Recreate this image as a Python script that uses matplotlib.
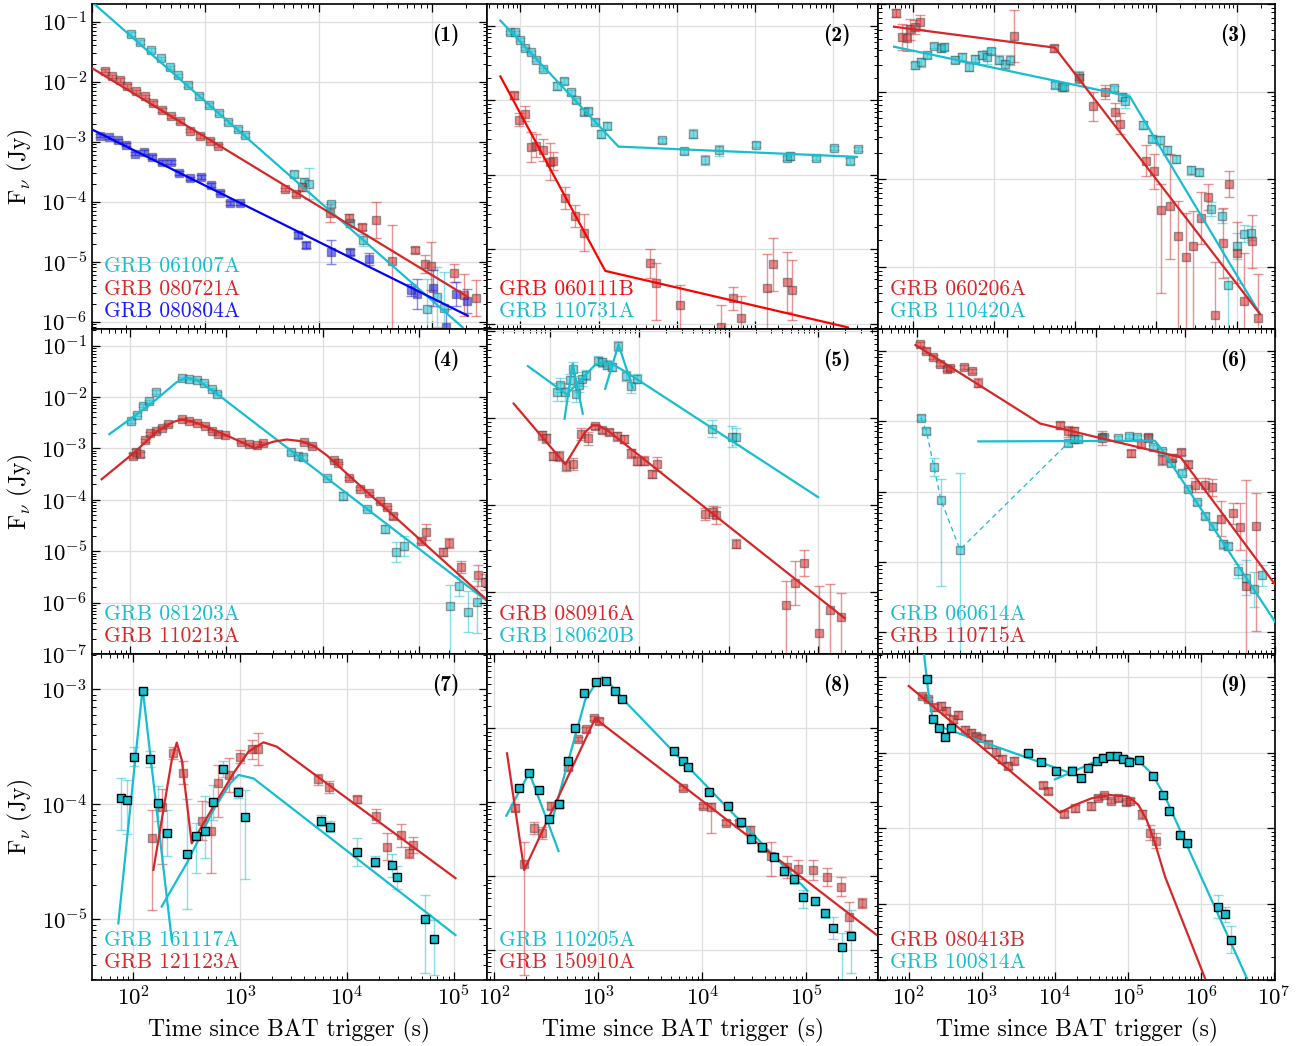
import numpy as np
import matplotlib
matplotlib.use("Agg")
import matplotlib.pyplot as plt
from matplotlib.colors import to_rgb
from matplotlib.ticker import LogLocator, NullFormatter

plt.rcParams.update({
    "font.family": "serif",
    "font.serif": ["cmr10"],
    "mathtext.fontset": "cm",
    "axes.formatter.use_mathtext": True,
})

CYAN = "#17becf"
RED = "#d62728"
BLUE = "#1010ee"
PURE_RED = "#ff0000"

# ---------------- Panel 1 ----------------
p1_061007A_t = [220, 266, 330, 403, 484, 573, 698, 873, 1070, 1313, 1588, 1945, 2230, 6050, 7410, 8200, 12770, 18800, 24700, 91500, 111000, 128000]
p1_061007A_f = [0.0617, 0.0454, 0.0338, 0.0243, 0.0172, 0.0127, 0.00887, 0.00575, 0.00408, 0.0030, 0.00213, 0.00161, 0.00128, 2.84e-4, 2.12e-4, 1.99e-4, 9.0e-5, 4.36e-5, 2.30e-5, 1.62e-6, 2.6e-6, 1.66e-6]
p1_061007A_e = [0.03, 0.03, 0.03, 0.03, 0.03, 0.03, 0.03, 0.03, 0.03, 0.03, 0.03, 0.03, 0.03, 0.05, 0.06, 0.26, 0.04, 0.06, 0.1, (1.5, 0.5), 0.5, 0.6]
p1_080721A_t = [130, 149, 175, 205, 247, 292, 349, 419, 500, 593, 727, 903, 1107, 1294, 5100, 6340, 7160, 12600, 18500, 24300, 32400, 44200, 70800, 86800, 98000, 156000, 193000, 245000]
p1_080721A_f = [0.0152, 0.0122, 0.0106, 0.00853, 0.00687, 0.00567, 0.00445, 0.00333, 0.00264, 0.00221, 0.00153, 0.00123, 0.00104, 8.6e-4, 1.60e-4, 1.35e-4, 1.75e-4, 6.5e-5, 5.3e-5, 3.8e-5, 4.9e-5, 1.03e-5, 1.55e-5, 9.3e-6, 8.5e-6, 6.4e-6, 2.77e-6, 2.44e-6]
p1_080721A_e = [0.03, 0.03, 0.03, 0.03, 0.03, 0.03, 0.03, 0.03, 0.03, 0.03, 0.03, 0.03, 0.03, 0.03, 0.03, 0.03, 0.06, 0.15, 0.07, 0.05, 0.3, (1.5, 0.6), 0.05, 0.15, 0.4, 0.15, 0.35, 0.3]
p1_080804A_t = [118, 140, 168, 200, 240, 285, 340, 411, 497, 585, 727, 922, 1122, 1358, 1665, 2013, 6600, 7780, 13000, 18900, 27900, 65200, 74700, 103000, 133000, 163000, 204000]
p1_080804A_f = [1.26e-3, 1.18e-3, 1.05e-3, 8.9e-4, 6.3e-4, 6.7e-4, 5.5e-4, 4.6e-4, 4.6e-4, 3.03e-4, 2.44e-4, 2.6e-4, 1.89e-4, 1.41e-4, 9.6e-5, 9.35e-5, 2.79e-5, 1.88e-5, 1.47e-5, 1.47e-5, 1.10e-5, 3.4e-6, 2.9e-6, 3.7e-6, 8.0e-7, 2.9e-6, 2.23e-6]
p1_080804A_e = [0.03, 0.03, 0.03, 0.03, 0.03, 0.03, 0.03, 0.03, 0.03, 0.03, 0.03, 0.03, 0.03, 0.03, 0.03, 0.03, 0.05, 0.05, 0.2, 0.05, 0.1, 0.1, 0.25, 0.3, 0.3, 0.2, 0.2]
p1_fit_061007A_t = [103, 1.87e5]
p1_fit_061007A_f = [0.202, 8.05e-7]
p1_fit_080721A_t = [100, 2.07e5]
p1_fit_080721A_f = [0.0168, 2.6e-6]
p1_fit_080804A_t = [103, 2.07e5]
p1_fit_080804A_f = [1.55e-3, 1.26e-6]

# ---------------- Panel 2 ----------------
p2_110731A_t = [7.45, 8.47, 9.8, 11.6, 13.7, 16.0, 19.3, 29.4, 36.5, 44.0, 51.4, 64.4, 73.1, 88.9, 108, 129, 650, 1242, 1633, 2301, 3510, 10200, 25400, 28000, 60100, 103000, 163000, 208000]
p2_110731A_f = [0.0822, 0.0822, 0.065, 0.0503, 0.0440, 0.0351, 0.0263, 0.0157, 0.0184, 0.0128, 0.0100, 0.0070, 0.0073, 0.0052, 0.00356, 0.00459, 0.0029, 0.00208, 0.00356, 0.00158, 0.00213, 0.00256, 0.0017, 0.00179, 0.0017, 0.00231, 0.00153, 0.00222]
p2_110731A_e = [0.02, 0.02, 0.02, 0.02, 0.02, 0.02, 0.02, 0.05, 0.04, 0.03, 0.03, 0.04, 0.04, 0.03, 0.05, 0.05, 0.03, 0.04, 0.06, 0.07, 0.08, 0.03, 0.03, 0.05, 0.03, 0.03, 0.04, 0.03]
p2_060111B_t = [8.4, 9.7, 11.6, 13.7, 16.0, 19.5, 23.7, 26.1, 36.8, 50.4, 65.0, 461, 545, 1103, 3680, 5290, 6560, 14400, 17100, 25900, 29700]
p2_060111B_f = [0.0117, 0.00552, 0.00665, 0.00238, 0.00248, 0.00215, 0.0015, 0.00153, 4.95e-4, 2.79e-4, 1.68e-4, 6.5e-5, 3.57e-5, 1.79e-5, 9.0e-6, 2.2e-5, 1.19e-5, 3.06e-5, 6.3e-5, 3.68e-5, 2.85e-5]
p2_060111B_e = [0.05, 0.09, 0.1, 0.2, 0.15, 0.15, 0.25, 0.12, 0.15, 0.15, 0.25, 0.2, (0.5, 0.27), (1.5, 0.27), (1.5, 0.3), 0.15, 0.3, (1.5, 0.45), 0.35, 0.4, 0.4]
p2_fit_060111B_t = [5.56, 122, 1.55e5]
p2_fit_060111B_f = [0.021, 5.16e-5, 9.0e-6]
p2_fit_110731A_t = [5.56, 180, 2.02e5]
p2_fit_110731A_f = [0.118, 0.0024, 0.00175]

# ---------------- Panel 3 ----------------
p3_060206A_t = [62, 72.8, 83.2, 92.3, 106, 123, 1768, 5470, 11300, 16800, 23400, 31100, 35900, 74500, 94400, 117000, 149000, 185000, 233000, 290000, 360000, 436000, 537000, 668000, 800000, 1.01e6, 1.23e6, 1.53e6, 1.85e6]
p3_060206A_f = [7.9e-3, 4.16e-3, 4.05e-3, 5.13e-3, 5.5e-3, 6.2e-3, 4.3e-3, 3.11e-3, 1.42e-3, 6.75e-4, 1.0e-3, 5.8e-4, 4.29e-4, 1.62e-4, 1.23e-4, 4.42e-5, 4.9e-5, 2.23e-5, 1.29e-5, 1.72e-5, 3.61e-5, 6.2e-5, 2.82e-6, 1.88e-5, 8.8e-5, 1.44e-5, 4.0e-6, 1.94e-5, 2.58e-6]
p3_060206A_e = [0.05, 0.15, 0.15, 0.12, 0.08, 0.08, 0.3, 0.04, 0.05, 0.17, 0.08, 0.1, 0.12, 0.18, 0.2, (0.95, 0.3), 0.6, (1.5, 0.4), (1.5, 0.5), (1.5, 0.4), 0.3, 0.15, (1.5, 0.6), 0.4, 0.15, 0.35, (1.5, 0.55), 0.3, 0.5]
p3_110420A_t = [106, 124, 150, 181, 223, 238, 332, 402, 486, 588, 711, 812, 927, 1142, 1381, 1577, 5640, 6810, 7280, 11100, 30500, 37600, 41300, 69600, 88300, 112000, 138000, 175000, 271000, 343000, 479000, 649000, 785000, 995000, 1.23e6, 1.50e6]
p3_110420A_f = [2.0e-3, 2.16e-3, 2.61e-3, 3.34e-3, 3.11e-3, 3.25e-3, 2.3e-3, 2.46e-3, 1.93e-3, 2.36e-3, 2.61e-3, 2.5e-3, 2.9e-3, 2.3e-3, 2.05e-3, 2.3e-3, 1.19e-3, 1.12e-3, 1.12e-3, 1.51e-3, 1.09e-3, 8.77e-4, 7.7e-4, 4.14e-4, 2.87e-4, 2.77e-4, 2.13e-4, 1.7e-4, 1.26e-4, 1.2e-4, 4.57e-5, 3.77e-5, 6.1e-6, 1.72e-5, 2.38e-5, 2.4e-5]
p3_110420A_e = [0.04, 0.05, 0.03, 0.03, 0.04, 0.04, 0.04, 0.05, 0.05, 0.04, 0.05, 0.08, 0.03, 0.05, 0.05, 0.06, 0.03, 0.03, 0.03, 0.05, 0.03, 0.04, 0.08, 0.05, 0.04, 0.05, 0.05, 0.05, 0.05, 0.04, 0.08, 0.08, (1.5, 0.1), 0.15, 0.1, 0.08]
p3_fit_060206A_t = [58, 5640, 1.94e6]
p3_fit_060206A_f = [5.5e-3, 3.17e-3, 2.86e-6]
p3_fit_110420A_t = [58, 47600, 1.94e6]
p3_fit_110420A_f = [3.25e-3, 8.77e-4, 2.86e-6]

# ---------------- Panel 4 ----------------
p4_081203A_t = [102, 117, 137, 159, 185, 343, 409, 491, 585, 708, 805, 4670, 5570, 6180, 10900, 16000, 28400, 44100, 56900, 69400, 208000, 260000, 322000, 393000]
p4_081203A_f = [3.38e-3, 4.55e-3, 6.7e-3, 8.25e-3, 0.0125, 0.0233, 0.0227, 0.021, 0.0189, 0.0145, 0.0116, 8.4e-4, 7.1e-4, 6.7e-4, 2.7e-4, 1.19e-4, 6.7e-5, 2.7e-5, 9.7e-6, 1.25e-5, 8.6e-7, 2.1e-6, 6.7e-7, 1.04e-6]
p4_081203A_e = [0.03, 0.03, 0.03, 0.03, 0.03, 0.02, 0.02, 0.02, 0.02, 0.02, 0.03, 0.03, 0.03, 0.05, 0.03, 0.08, 0.03, 0.08, 0.2, 0.2, (1.5, 0.4), 0.2, 0.4, (0.6, 0.4)]
p4_110213A_t = [107, 115, 127, 143, 161, 186, 216, 246, 343, 409, 499, 600, 708, 824, 966, 1405, 1727, 2060, 2414, 6430, 7780, 12900, 14200, 18800, 24300, 30100, 39100, 45900, 53800, 103000, 116000, 175000, 202000, 271000, 402000, 480000]
p4_110213A_f = [7.2e-4, 8.6e-4, 7.65e-4, 1.45e-3, 1.95e-3, 2.16e-3, 2.55e-3, 2.96e-3, 3.7e-3, 3.38e-3, 3.18e-3, 2.7e-3, 2.16e-3, 1.89e-3, 1.81e-3, 1.31e-3, 1.21e-3, 1.16e-3, 1.25e-3, 1.31e-3, 1.11e-3, 5.9e-4, 5.1e-4, 2.62e-4, 1.63e-4, 1.35e-4, 9.3e-5, 7.2e-5, 4.75e-5, 1.61e-5, 2.37e-5, 9.6e-6, 1.45e-5, 5.0e-6, 3.4e-6, 2.5e-6]
p4_110213A_e = [0.05, 0.05, 0.05, 0.03, 0.03, 0.03, 0.03, 0.03, 0.02, 0.02, 0.02, 0.02, 0.02, 0.02, 0.02, 0.02, 0.02, 0.02, 0.02, 0.02, 0.02, 0.02, 0.02, 0.03, 0.03, 0.03, 0.03, 0.03, 0.05, 0.05, 0.15, 0.08, 0.1, 0.12, 0.2, 0.15]
p4_fit_081203A_t = [61, 161, 305, 387, 491, 792, 500000]
p4_fit_081203A_f = [1.89e-3, 7.1e-3, 0.0195, 0.0237, 0.0216, 0.0116, 1.08e-6]
p4_fit_110213A_t = [50.8, 108, 189, 281, 343, 436, 623, 1180, 1980, 2414, 3060, 4210, 5800, 7960, 10900, 19100, 500000]
p4_fit_110213A_f = [2.51e-4, 8.0e-4, 2.1e-3, 3.28e-3, 3.64e-3, 3.38e-3, 2.62e-3, 1.56e-3, 1.0e-3, 1.16e-3, 1.35e-3, 1.49e-3, 1.39e-3, 1.13e-3, 7.4e-4, 2.83e-4, 1.13e-6]

# ---------------- Panel 5 ----------------
p5_180620B_t = [121, 132, 147, 170, 181, 197, 214, 230, 254, 352, 390, 443, 504, 578, 710, 807, 942, 6580, 10800, 12000]
p5_180620B_f = [1.98e-3, 2.36e-3, 1.98e-3, 2.69e-3, 3.66e-3, 1.9e-3, 2.36e-3, 2.77e-3, 3.13e-3, 4.56e-3, 4.36e-3, 4.1e-3, 3.83e-3, 6.65e-3, 3.02e-3, 2.32e-3, 2.82e-3, 7.55e-4, 6.07e-4, 6.07e-4]
p5_180620B_e = [0.1, 0.08, 0.1, 0.08, 0.08, 0.1, 0.08, 0.08, 0.06, 0.05, 0.05, 0.05, 0.05, 0.06, 0.06, 0.08, 0.05, 0.1, 0.12, 0.1]
p5_080916A_t = [82, 91, 109, 128, 152, 185, 223, 268, 323, 383, 463, 563, 680, 807, 958, 1146, 1408, 1601, 5450, 6750, 7230, 12000, 43600, 54900, 69200, 103000, 137000, 179000]
p5_080916A_f = [6.3e-4, 5.8e-4, 3.65e-4, 3.65e-4, 2.8e-4, 2.93e-4, 6.6e-4, 5.8e-4, 8.0e-4, 7.2e-4, 6.9e-4, 6.17e-4, 5.7e-4, 3.9e-4, 3.23e-4, 3.23e-4, 2.27e-4, 2.95e-4, 7.9e-5, 8.3e-5, 7.6e-5, 3.6e-5, 7.1e-6, 1.27e-5, 2.13e-5, 3.34e-6, 6.2e-6, 5.2e-6]
p5_080916A_e = [0.05, 0.05, 0.05, 0.06, 0.06, 0.07, 0.07, 0.07, 0.03, 0.03, 0.03, 0.05, 0.05, 0.05, 0.05, 0.05, 0.05, 0.08, 0.07, 0.07, 0.1, 0.05, (1.5, 0.28), 0.25, 0.15, (1.5, 0.55), (1.5, 0.3), (1.5, 0.27)]
p5_fit_180620B_t = [57.3, 156, 230, 323, 400, 517, 698, 1e5]
p5_fit_180620B_f = [3.93e-3, 1.86e-3, 2.82e-3, 4.07e-3, 4.37e-3, 4.07e-3, 3.41e-3, 1.23e-4]
p5_flare1_180620B_t = [147, 181, 235]
p5_flare1_180620B_f = [9.8e-4, 4.18e-3, 1.12e-3]
p5_flare2_180620B_t = [418, 589, 849]
p5_flare2_180620B_f = [2.16e-3, 6.95e-3, 2.22e-3]
p5_fit_080916A_t = [39.7, 150, 250, 302, 352, 455, 198000]
p5_fit_080916A_f = [1.46e-3, 2.93e-4, 6.9e-4, 8.2e-4, 8.2e-4, 7.05e-4, 5.0e-6]

# ---------------- Panel 6 ----------------
p6_110715A_t = [106, 126, 150, 178, 212, 231, 332, 405, 472, 3910, 4850, 5610, 11700, 24900, 31800, 38400, 55200, 70200, 88600, 108000, 127000, 165000, 201000, 254000, 346000, 411000, 476000, 617000]
p6_110715A_f = [0.0124, 0.01, 8.05e-3, 6.48e-3, 5.5e-3, 5.69e-3, 5.82e-3, 5.1e-3, 3.5e-3, 8.7e-4, 7.18e-4, 7.18e-4, 5.66e-4, 3.48e-4, 4.71e-4, 5.85e-4, 2.83e-4, 3.02e-4, 3.67e-4, 2.43e-4, 1.22e-4, 1.22e-4, 1.14e-4, 4.1e-5, 4.89e-5, 3.17e-5, 4.56e-6, 3.27e-5]
p6_110715A_e = [0.03, 0.03, 0.03, 0.03, 0.03, 0.03, 0.03, 0.03, 0.06, 0.05, 0.08, 0.06, 0.1, 0.05, 0.05, 0.05, 0.07, 0.05, 0.04, 0.05, 0.1, 0.1, 0.12, 0.25, 0.15, 0.33, (1.5, 1.5), (1.5, 0.46)]
p6_060614A_t = [109, 126, 153, 183, 299, 4810, 5610, 6220, 11700, 12400, 17500, 23300, 28600, 38400, 43300, 55200, 68400, 91000, 108000, 134000, 166000, 206000, 261000, 304000, 391000, 476000, 581000, 714000]
p6_060614A_f = [1.12e-3, 7.18e-4, 2.21e-4, 7.6e-5, 1.5e-5, 4.81e-4, 5.55e-4, 5.55e-4, 5.85e-4, 5.85e-4, 5.66e-4, 6.18e-4, 5.97e-4, 5.66e-4, 4.31e-4, 3.75e-4, 2.51e-4, 1.85e-4, 1.08e-4, 7.0e-5, 4.53e-5, 3.27e-5, 1.77e-5, 1.67e-5, 7.4e-6, 5.98e-6, 4.09e-6, 6.5e-6]
p6_060614A_e = [0.03, 0.04, 0.13, (1.22, 0.29), (1.6, 1.08), 0.04, 0.05, 0.04, 0.03, 0.03, 0.03, 0.03, 0.03, 0.03, 0.03, 0.03, 0.04, 0.04, 0.03, 0.04, 0.04, 0.04, 0.06, 0.05, 0.1, 0.25, 0.25, 0.15]
p6_fit_060614A_t = [481, 45600, 55200, 1.01e6]
p6_fit_060614A_f = [5.14e-4, 5.25e-4, 3.87e-4, 1.42e-6]
p6_fit_110715A_t = [95, 2370, 88700, 1.01e6]
p6_fit_110715A_f = [0.012, 9.2e-4, 3.05e-4, 4.8e-6]

# ---------------- Panel 7 ----------------
p7_161117A_t = [76, 86.6, 102, 122, 143, 169, 205, 321, 384, 470, 554, 688, 958, 1114, 5740, 6880, 12400, 18400, 26600, 29400, 53500, 64900]
p7_161117A_f = [1.14e-4, 1.09e-4, 2.6e-4, 9.7e-4, 2.46e-4, 1.02e-4, 5.6e-5, 3.7e-5, 5.3e-5, 5.9e-5, 1.04e-4, 2.03e-4, 1.27e-4, 7.8e-5, 7.2e-5, 6.4e-5, 3.83e-5, 3.17e-5, 2.96e-5, 2.32e-5, 1.0e-5, 6.7e-6]
p7_161117A_e = [(0.28, 0.17), (0.3, 0.17), 0.08, 0.02, 0.07, 0.15, 0.2, 0.48, (0.32, 0.11), (0.24, 0.3), 0.15, 0.07, 0.05, (0.54, 0.23), 0.05, 0.05, 0.12, 0.05, 0.1, 0.1, (0.47, 0.21), (0.31, 0.17)]
p7_121123A_t = [151, 187, 234, 290, 437, 531, 626, 783, 1000, 1286, 1465, 5310, 6730, 12400, 18800, 23700, 32100, 37900, 41600]
p7_121123A_f = [5.06e-5, 9.55e-5, 2.78e-4, 1.88e-4, 7.2e-5, 5.8e-5, 1.52e-4, 1.8e-4, 2.6e-4, 3.0e-4, 3.03e-4, 1.65e-4, 1.42e-4, 1.11e-4, 7.96e-5, 4.28e-5, 5.4e-5, 3.8e-5, 4.43e-5]
p7_121123A_e = [(0.62, 0.25), (0.5, 0.15), 0.05, 0.1, 0.17, (0.36, 0.26), (0.29, 0.16), 0.15, 0.06, 0.08, 0.14, 0.05, 0.05, 0.03, 0.06, 0.12, 0.1, 0.05, 0.07]
p7_flare_161117A_t = [72.3, 122, 229]
p7_flare_161117A_f = [9.2e-6, 1.02e-3, 6.6e-6]
p7_fit_161117A_t = [184, 316, 562, 806, 964, 1334, 1.04e5]
p7_fit_161117A_f = [1.29e-5, 3.07e-5, 8.93e-5, 1.52e-4, 1.8e-4, 1.68e-4, 7.3e-6]
p7_fit_121123A_t = [154, 229, 255, 284, 352, 562, 866, 1197, 1655, 2208, 1.04e5]
p7_fit_121123A_f = [2.69e-5, 2.43e-4, 3.44e-4, 2.43e-4, 4.58e-5, 9.55e-5, 1.86e-4, 2.87e-4, 3.46e-4, 3.17e-4, 2.28e-5]

# ---------------- Panel 8 ----------------
p8_110205A_t = [171, 216, 269, 336, 413, 508, 597, 728, 942, 1185, 1445, 1687, 5370, 6460, 7310, 11600, 17700, 23400, 29000, 37500, 48900, 61000, 76200, 93000, 120000, 150000, 180000, 222000, 270000]
p8_110205A_f = [1.57e-4, 2.51e-4, 1.47e-4, 5.87e-5, 9.4e-5, 3.61e-4, 1.02e-3, 2.98e-3, 4.28e-3, 4.41e-3, 3.24e-3, 2.5e-3, 4.99e-4, 3.61e-4, 3.03e-4, 1.39e-4, 8.9e-5, 5.35e-5, 3.15e-5, 2.45e-5, 1.83e-5, 1.19e-5, 9.1e-6, 5.2e-6, 4.61e-6, 3.14e-6, 2.01e-6, 1.09e-6, 1.55e-6]
p8_110205A_e = [0.02, 0.02, 0.02, 0.05, 0.04, 0.02, 0.02, 0.02, 0.02, 0.02, 0.02, 0.02, 0.02, 0.02, 0.02, 0.02, 0.02, 0.02, 0.02, 0.03, 0.05, 0.06, 0.06, (0.15, 0.1), 0.06, 0.06, 0.15, (0.6, 0.2), (0.5, 0.35)]
p8_150910A_t = [158, 193, 238, 286, 352, 419, 508, 629, 755, 908, 1022, 6460, 10200, 12200, 16800, 22600, 28600, 37500, 46100, 65700, 83200, 116000, 158000, 217000, 255000, 345000]
p8_150910A_f = [8.43e-5, 1.46e-5, 4.53e-5, 3.88e-5, 9.0e-5, 9.47e-5, 2.96e-4, 7.17e-4, 9.7e-4, 1.37e-3, 1.26e-3, 1.57e-4, 8.9e-5, 8.7e-5, 5.29e-5, 5.29e-5, 4.2e-5, 2.38e-5, 1.89e-5, 1.34e-5, 1.24e-5, 1.21e-5, 9.8e-6, 7.2e-6, 2.83e-6, 4.29e-6]
p8_150910A_e = [0.05, (1.5, 0.3), 0.08, 0.08, 0.05, 0.05, 0.03, 0.03, 0.03, 0.03, 0.04, 0.03, 0.03, (0.36, 0.05), 0.03, 0.04, 0.05, 0.04, (0.28, 0.19), 0.15, 0.13, 0.13, 0.12, 0.13, 0.2, 0.07]
p8_flare_110205A_t = [130, 216, 413]
p8_flare_110205A_f = [6.58e-5, 2.51e-4, 2.19e-5]
p8_fit_110205A_t = [356, 515, 745, 964, 1076, 1202, 1687, 102000]
p8_fit_110205A_f = [5.46e-5, 3.72e-4, 2.42e-3, 4.28e-3, 4.9e-3, 4.5e-3, 2.55e-3, 6.35e-6]
p8_fit_150910A_t = [132, 193, 929, 506000]
p8_fit_150910A_f = [4.59e-4, 1.21e-5, 1.36e-3, 1.49e-6]

# ---------------- Panel 9 ----------------
p9_100814A_t = [178, 215, 260, 318, 384, 4310, 6370, 10300, 16900, 22700, 28600, 37200, 45900, 56700, 69900, 86300, 103000, 139000, 222000, 299000, 365000, 516000, 650000, 1.69e6, 2.09e6, 2.58e6]
p9_100814A_f = [9.5e-4, 2.78e-4, 2.11e-4, 1.64e-4, 2.16e-4, 9.87e-5, 7.65e-5, 5.75e-5, 5.82e-5, 4.7e-5, 6.25e-5, 7.89e-5, 8.47e-5, 9.1e-5, 9.1e-5, 8.3e-5, 7.5e-5, 8.05e-5, 4.94e-5, 2.77e-5, 1.72e-5, 8.2e-6, 6.5e-6, 9.2e-7, 7.3e-7, 3.34e-7]
p9_100814A_e = [0.03, 0.03, 0.03, 0.05, 0.03, 0.03, 0.04, 0.03, 0.06, 0.05, 0.03, 0.03, 0.03, 0.03, 0.03, 0.03, 0.03, 0.03, 0.03, 0.03, 0.03, 0.03, 0.03, 0.15, 0.1, (0.17, 0.19)]
p9_080413B_t = [154, 184, 222, 274, 328, 405, 474, 585, 707, 845, 969, 1220, 1556, 1900, 2300, 2745, 6780, 7940, 13400, 18800, 31100, 39200, 47400, 58500, 72200, 92900, 106000, 157000, 200000, 242000]
p9_080413B_f = [5.7e-4, 5.16e-4, 4.0e-4, 4.18e-4, 3.62e-4, 2.78e-4, 3.18e-4, 2.01e-4, 1.82e-4, 1.67e-4, 1.56e-4, 1.3e-4, 1.02e-4, 8.3e-5, 6.78e-5, 7.89e-5, 3.76e-5, 3.13e-5, 1.55e-5, 1.85e-5, 2.0e-5, 2.56e-5, 2.77e-5, 2.31e-5, 2.5e-5, 2.22e-5, 2.33e-5, 1.54e-5, 8.8e-6, 6.9e-6]
p9_080413B_e = [0.03, 0.03, 0.05, 0.05, 0.05, 0.05, 0.05, 0.05, 0.05, 0.04, 0.04, 0.05, 0.05, 0.05, 0.05, 0.05, 0.04, 0.04, 0.04, 0.05, 0.05, 0.03, 0.03, 0.03, 0.03, 0.03, 0.03, 0.06, 0.1, 0.1]
p9_fitA_100814A_t = [162, 184, 209, 252, 21300]
p9_fitA_100814A_f = [2.04e-3, 6.8e-4, 3.01e-4, 2.27e-4, 4.94e-5]
p9_fitB_100814A_t = [10000, 18800, 35300, 59700, 95900, 139000, 211000, 321000, 489000, 4.23e6]
p9_fitB_100814A_f = [4.47e-5, 5.82e-5, 7.66e-5, 9.1e-5, 8.9e-5, 7.8e-5, 5.37e-5, 2.64e-5, 1.06e-5, 1.04e-7]
p9_fit_080413B_t = [100, 11700, 18800, 31800, 56600, 101000, 139000, 180000, 234000, 321000, 1.13e6]
p9_fit_080413B_f = [7.68e-4, 1.62e-5, 2.05e-5, 2.51e-5, 2.77e-5, 2.64e-5, 2.05e-5, 1.29e-5, 6.36e-6, 2.3e-6, 1.04e-7]

# axis limits (log10) per panel
xlims = [(2.0, 5.487), (0.574, 5.574), (1.565, 6.472),
         (1.606, 5.70), (1.301, 5.669), (1.558, 6.004),
         (1.6125, 5.3125), (1.928, 5.688), (1.58, 7.01)]
ylims = [(-6.122, -0.707), (-5.067, -0.706), (-5.713, -2.0),
         (-7.0, -0.677), (-5.712, -1.979), (-6.306, -1.694),
         (-5.528, -2.693), (-6.405, -1.994), (-7.005, -2.691)]

W, H = 1311, 1046
cols_px = [(92, 487), (487, 878), (878, 1275)]
rows_px = [(4, 329), (329, 654), (654, 980)]

fig = plt.figure(figsize=(W / 100, H / 100), dpi=100)
axes = []
for r in range(3):
    for c in range(3):
        x0, x1 = cols_px[c]
        y0, y1 = rows_px[r]
        ax = fig.add_axes([x0 / W, 1 - y1 / H, (x1 - x0) / W, (y1 - y0) / H])
        axes.append(ax)


def points(ax, t, f, e, color, strong=False):
    t = np.asarray(t, float)
    f = np.asarray(f, float)
    lo = np.array([v[0] if isinstance(v, tuple) else v for v in e])
    hi = np.array([v[1] if isinstance(v, tuple) else v for v in e])
    yerr = [f - f * 10 ** (-lo), f * 10 ** hi - f]
    rgb = to_rgb(color)
    ax.errorbar(t, f, yerr=yerr, fmt="none", ecolor=(*rgb, 0.5), elinewidth=1.0,
                capsize=3.8, capthick=1.0, zorder=2)
    if strong:
        ax.plot(t, f, "s", ms=5.2, mfc=color, mec="black", mew=1.0, ls="none", zorder=4)
    else:
        ax.plot(t, f, "s", ms=5.2, mfc=(*rgb, 0.55), mec=(0.25, 0.25, 0.25, 0.5), mew=1.0,
                ls="none", zorder=2.5)


def fit(ax, t, f, color, ls="-", lw=1.6):
    ax.plot(t, f, color=color, lw=lw, ls=ls, zorder=3)


# Panel 1
ax = axes[0]
points(ax, p1_061007A_t, p1_061007A_f, p1_061007A_e, CYAN)
points(ax, p1_080721A_t, p1_080721A_f, p1_080721A_e, RED)
points(ax, p1_080804A_t, p1_080804A_f, p1_080804A_e, BLUE)
fit(ax, p1_fit_061007A_t, p1_fit_061007A_f, CYAN)
fit(ax, p1_fit_080721A_t, p1_fit_080721A_f, RED)
fit(ax, p1_fit_080804A_t, p1_fit_080804A_f, "#0000ff")

# Panel 2
ax = axes[1]
points(ax, p2_110731A_t, p2_110731A_f, p2_110731A_e, CYAN)
points(ax, p2_060111B_t, p2_060111B_f, p2_060111B_e, RED)
fit(ax, p2_fit_110731A_t, p2_fit_110731A_f, CYAN)
fit(ax, p2_fit_060111B_t, p2_fit_060111B_f, PURE_RED)

# Panel 3
ax = axes[2]
points(ax, p3_110420A_t, p3_110420A_f, p3_110420A_e, CYAN)
points(ax, p3_060206A_t, p3_060206A_f, p3_060206A_e, RED)
fit(ax, p3_fit_110420A_t, p3_fit_110420A_f, CYAN)
fit(ax, p3_fit_060206A_t, p3_fit_060206A_f, RED)

# Panel 4
ax = axes[3]
points(ax, p4_081203A_t, p4_081203A_f, p4_081203A_e, CYAN)
points(ax, p4_110213A_t, p4_110213A_f, p4_110213A_e, RED)
fit(ax, p4_fit_081203A_t, p4_fit_081203A_f, CYAN)
fit(ax, p4_fit_110213A_t, p4_fit_110213A_f, RED)

# Panel 5
ax = axes[4]
points(ax, p5_180620B_t, p5_180620B_f, p5_180620B_e, CYAN)
points(ax, p5_080916A_t, p5_080916A_f, p5_080916A_e, RED)
fit(ax, p5_fit_180620B_t, p5_fit_180620B_f, CYAN)
fit(ax, p5_flare1_180620B_t, p5_flare1_180620B_f, CYAN)
fit(ax, p5_flare2_180620B_t, p5_flare2_180620B_f, CYAN)
fit(ax, p5_fit_080916A_t, p5_fit_080916A_f, RED)

# Panel 6
ax = axes[5]
points(ax, p6_060614A_t, p6_060614A_f, p6_060614A_e, CYAN)
points(ax, p6_110715A_t, p6_110715A_f, p6_110715A_e, RED)
fit(ax, p6_060614A_t[:6], p6_060614A_f[:6], CYAN, ls=(0, (4, 3)), lw=0.9)
fit(ax, p6_fit_060614A_t, p6_fit_060614A_f, CYAN)
fit(ax, p6_fit_110715A_t, p6_fit_110715A_f, RED)

# Panel 7
ax = axes[6]
points(ax, p7_121123A_t, p7_121123A_f, p7_121123A_e, RED)
points(ax, p7_161117A_t, p7_161117A_f, p7_161117A_e, CYAN, strong=True)
fit(ax, p7_flare_161117A_t, p7_flare_161117A_f, CYAN)
fit(ax, p7_fit_161117A_t, p7_fit_161117A_f, CYAN)
fit(ax, p7_fit_121123A_t, p7_fit_121123A_f, RED)

# Panel 8
ax = axes[7]
points(ax, p8_150910A_t, p8_150910A_f, p8_150910A_e, RED)
points(ax, p8_110205A_t, p8_110205A_f, p8_110205A_e, CYAN, strong=True)
fit(ax, p8_flare_110205A_t, p8_flare_110205A_f, CYAN)
fit(ax, p8_fit_110205A_t, p8_fit_110205A_f, CYAN)
fit(ax, p8_fit_150910A_t, p8_fit_150910A_f, RED)

# Panel 9
ax = axes[8]
points(ax, p9_080413B_t, p9_080413B_f, p9_080413B_e, RED)
points(ax, p9_100814A_t, p9_100814A_f, p9_100814A_e, CYAN, strong=True)
fit(ax, p9_fitA_100814A_t, p9_fitA_100814A_f, CYAN)
fit(ax, p9_fitB_100814A_t, p9_fitB_100814A_f, CYAN)
fit(ax, p9_fit_080413B_t, p9_fit_080413B_f, RED)

legends = [
    [("GRB 061007A", CYAN), ("GRB 080721A", RED), ("GRB 080804A", "#1a1aff")],
    [("GRB 060111B", "#ee1111"), ("GRB 110731A", CYAN)],
    [("GRB 060206A", RED), ("GRB 110420A", CYAN)],
    [("GRB 081203A", CYAN), ("GRB 110213A", RED)],
    [("GRB 080916A", RED), ("GRB 180620B", CYAN)],
    [("GRB 060614A", CYAN), ("GRB 110715A", RED)],
    [("GRB 161117A", CYAN), ("GRB 121123A", RED)],
    [("GRB 110205A", CYAN), ("GRB 150910A", RED)],
    [("GRB 080413B", RED), ("GRB 100814A", CYAN)],
]
ypos = [0.193, 0.123, 0.055]

for i, ax in enumerate(axes):
    ax.set_xscale("log")
    ax.set_yscale("log")
    ax.set_xlim(10 ** xlims[i][0], 10 ** xlims[i][1])
    ax.set_ylim(10 ** ylims[i][0], 10 ** ylims[i][1])
    for axis in (ax.xaxis, ax.yaxis):
        axis.set_major_locator(LogLocator(base=10, numticks=30))
        axis.set_minor_locator(LogLocator(base=10, subs=np.arange(2, 10), numticks=30))
        axis.set_minor_formatter(NullFormatter())
    ax.tick_params(which="both", direction="in", top=True, right=True, labelsize=16.5)
    ax.tick_params(which="major", length=6, width=0.9)
    ax.tick_params(which="minor", length=3, width=0.7)
    ax.grid(True, which="major", color="0.87", lw=0.9)
    ax.set_axisbelow(True)
    for s in ax.spines.values():
        s.set_linewidth(1.2)
    r, c = divmod(i, 3)
    if c != 0:
        ax.tick_params(labelleft=False)
    else:
        ax.set_ylabel(r"F$_{\nu}$ (Jy)", fontsize=17, labelpad=4)
    if r != 2:
        ax.tick_params(labelbottom=False)
    else:
        ax.set_xlabel("Time since BAT trigger (s)", fontsize=17, labelpad=6)
    entries = legends[i]
    ys = ypos[-len(entries):]
    for (txt, col), yy in zip(entries, ys):
        ax.text(0.03, yy, txt, transform=ax.transAxes, color=col, fontsize=15.5,
                ha="left", va="center", zorder=6)
    ax.text(0.895, 0.905, "(%d)" % (i + 1), transform=ax.transAxes, fontsize=15.5,
            family="cmb10", ha="center", va="center", zorder=6)

fig.savefig("out.png", dpi=100)
